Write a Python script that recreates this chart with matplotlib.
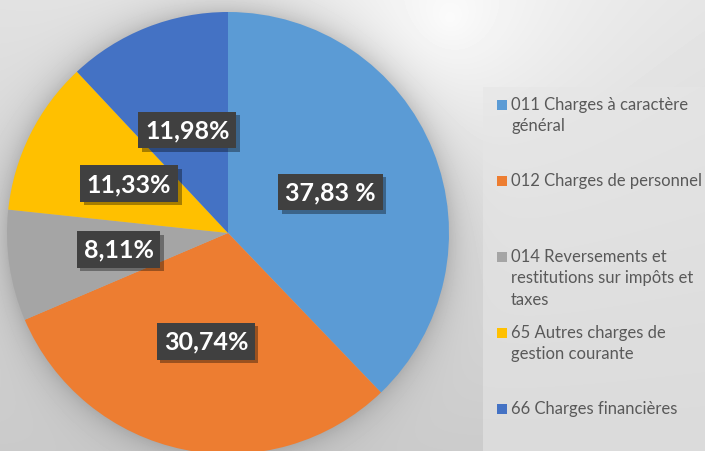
import matplotlib.pyplot as plt
import matplotlib.patheffects as pe
from matplotlib.patches import Rectangle
import numpy as np

# chart data
categories = [
    "011 Charges à caractère\ngénéral",
    "012 Charges de personnel",
    "014 Reversements et\nrestitutions sur impôts et\ntaxes",
    "65 Autres charges de\ngestion courante",
    "66 Charges financières",
]
shares = [37.83, 30.74, 8.11, 11.33, 11.98]
pct_labels = ["37,83 %", "30,74%", "8,11%", "11,33%", "11,98%"]
colors = ["#5B9BD5", "#ED7D31", "#A5A5A5", "#FFC000", "#4472C4"]

W, H = 705, 452
fig = plt.figure(figsize=(7.05, 4.52), dpi=100)
ax = fig.add_axes([0, 0, 1, 1])

# pie geometry in pixels (y measured from top for the background)
cx, cy, r = 228, 234, 221

# gray gradient background with a soft glow around the pie
yy, xx = np.mgrid[0:H, 0:W] + 0.5
dist = np.hypot(xx - 450, yy - 20)
v = 252 - 28 * (1 - np.exp(-dist / 160)) - 0.05 * yy
d = np.hypot(xx - cx, yy - cy) - r
shade = np.where(d > 0, 0.16 * np.exp(-np.clip(d, 0, None) / 16), 0.16)
v = v * (1 - shade)
ax.imshow(np.clip(v, 0, 255) / 255, cmap="gray", vmin=0, vmax=1,
          extent=(0, W, 0, H), origin="upper", zorder=0,
          interpolation="bilinear")

# legend panel
ax.add_patch(Rectangle((483, 0), W - 483, H - 88, facecolor="#e6e6e6",
                       edgecolor="none", alpha=0.6, zorder=0.5))

wedges, texts = ax.pie(
    shares,
    colors=colors,
    labels=pct_labels,
    labeldistance=0.5,
    startangle=90,
    counterclock=False,
    center=(cx, H - cy),
    radius=r,
    frame=True,
    wedgeprops=dict(linewidth=0),
    textprops=dict(color="white", fontsize=18, fontweight="bold",
                   family="Lato"),
)

for t in texts:
    t.set_ha("center")
    t.set_va("center")
    t.set_zorder(5)
    t.set_bbox(dict(boxstyle="square,pad=0.27", facecolor="#404040",
                    edgecolor="none"))
    t.get_bbox_patch().set_path_effects([
        pe.SimplePatchShadow(offset=(2.5, -2.5), shadow_rgbFace="black",
                             alpha=0.35),
        pe.Normal(),
    ])

# legend drawn by hand so the squares sit on the first line of each entry
first_line = 106
step = 76
for i, (label, col) in enumerate(zip(categories, colors)):
    y = H - (first_line + i * step)
    ax.add_patch(Rectangle((497, y - 5), 10, 10, facecolor=col,
                           edgecolor="none", zorder=3))
    ax.text(511, y + 9, label, fontsize=12, family="Lato", color="#595959",
            va="top", ha="left", linespacing=1.42, zorder=3)

ax.set_xlim(0, W)
ax.set_ylim(0, H)
ax.set_aspect("auto")
ax.axis("off")

fig.savefig("out.png", dpi=100)
